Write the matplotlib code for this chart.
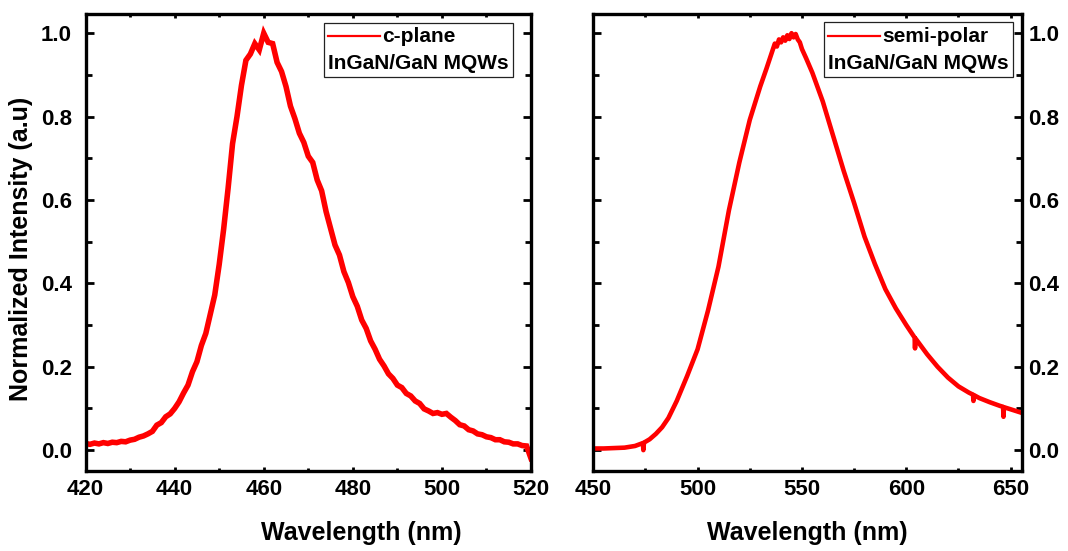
import numpy as np
import matplotlib
matplotlib.use("Agg")
import matplotlib.pyplot as plt
from matplotlib.lines import Line2D
from matplotlib.offsetbox import (AnchoredOffsetbox, DrawingArea, HPacker,
                                  TextArea, VPacker)
from matplotlib.ticker import MultipleLocator

plt.rcParams["font.family"] = ["Liberation Sans", "DejaVu Sans"]
plt.rcParams["font.weight"] = "bold"

# ---- PL spectra -----------------------------------------------------------
# c-plane InGaN/GaN MQWs, 1 nm steps from 420 to 520 nm
cplane_wl = np.arange(420, 521, 1)
cplane_int = [
    0.016, 0.014, 0.017, 0.015, 0.018, 0.016, 0.019, 0.018, 0.021, 0.020,
    0.024, 0.026, 0.031, 0.034, 0.039, 0.045, 0.060, 0.066, 0.080, 0.087,
    0.100, 0.116, 0.137, 0.156, 0.188, 0.212, 0.251, 0.280, 0.326, 0.372,
    0.445, 0.530, 0.628, 0.735, 0.800, 0.875, 0.935, 0.950, 0.975, 0.960,
    1.000, 0.978, 0.975, 0.930, 0.908, 0.872, 0.825, 0.795, 0.760, 0.738,
    0.705, 0.690, 0.648, 0.622, 0.572, 0.532, 0.492, 0.468, 0.428, 0.402,
    0.368, 0.345, 0.312, 0.292, 0.262, 0.242, 0.218, 0.202, 0.183, 0.172,
    0.156, 0.150, 0.136, 0.130, 0.118, 0.112, 0.099, 0.094, 0.088, 0.090,
    0.086, 0.088, 0.079, 0.071, 0.061, 0.058, 0.049, 0.046, 0.039, 0.037,
    0.032, 0.030, 0.025, 0.025, 0.020, 0.019, 0.015, 0.015, 0.011, 0.010,
    -0.020,
]

# semi-polar InGaN/GaN MQWs
semipolar_wl = [
    450, 455, 460, 465, 470, 473.8, 474.0, 474.3, 477, 480, 483, 486, 490,
    495, 500, 505, 510, 515, 520, 525, 530, 533, 535, 537, 538, 539, 540,
    541, 542, 543, 544, 545, 546, 547, 548, 549, 550, 552, 555, 560, 565,
    570, 575, 580, 585, 590, 595, 600, 604.0, 604.2, 604.4, 610, 615, 620,
    625, 630, 632.0, 632.2, 632.4, 635, 640, 645, 646.4, 646.6, 646.8, 650,
    655,
]
semipolar_int = [
    0.004, 0.004, 0.005, 0.006, 0.010, 0.017, 0.000, 0.018, 0.026, 0.039,
    0.055, 0.077, 0.118, 0.178, 0.242, 0.335, 0.440, 0.575, 0.690, 0.792,
    0.872, 0.915, 0.945, 0.975, 0.968, 0.985, 0.978, 0.990, 0.982, 0.995,
    0.986, 1.000, 0.990, 0.998, 0.985, 0.978, 0.962, 0.940, 0.905, 0.836,
    0.753, 0.670, 0.593, 0.512, 0.446, 0.386, 0.340, 0.300, 0.270, 0.244,
    0.268, 0.230, 0.200, 0.174, 0.153, 0.138, 0.133, 0.118, 0.132, 0.125,
    0.115, 0.106, 0.104, 0.080, 0.103, 0.098, 0.090,
]

sample_names = ["c-plane", "semi-polar"]
structure_name = "InGaN/GaN MQWs"
x_label = "Wavelength (nm)"
y_label = "Normalized Intensity (a.u)"

RED = "#ff0000"
TICK_FS = 16
KEY_FS = 15
LABEL_FS = 18


def style_axes(ax, xmaj, xmin):
    for sp in ax.spines.values():
        sp.set_linewidth(2.4)
    ax.xaxis.set_major_locator(MultipleLocator(xmaj))
    ax.xaxis.set_minor_locator(MultipleLocator(xmin))
    ax.yaxis.set_major_locator(MultipleLocator(0.2))
    ax.yaxis.set_minor_locator(MultipleLocator(0.1))
    ax.tick_params(axis="both", which="both", direction="in",
                   top=True, right=True, width=2.0)
    ax.tick_params(axis="x", which="major", length=3, pad=6,
                   labelsize=TICK_FS)
    ax.tick_params(axis="x", which="minor", length=2)
    ax.tick_params(axis="y", which="major", length=6, labelsize=TICK_FS)
    ax.tick_params(axis="y", which="minor", length=4)
    for lab in ax.get_xticklabels() + ax.get_yticklabels():
        lab.set_fontweight("bold")
    ax.set_ylim(-0.05, 1.046)


def add_key(ax, name, anchor):
    da = DrawingArea(37, 10, 0, 0)
    da.add_artist(Line2D([0, 37], [5, 5], color=RED, lw=1.6))
    tprops = dict(fontsize=KEY_FS, fontweight="bold", color="black")
    row1 = HPacker(children=[da, TextArea(name, textprops=tprops)],
                   align="center", pad=0, sep=2)
    row2 = TextArea(structure_name, textprops=tprops)
    box = VPacker(children=[row1, row2], align="left", pad=0, sep=6)
    anchored = AnchoredOffsetbox(loc="upper right", child=box, pad=0.3,
                                 borderpad=0, frameon=True,
                                 bbox_to_anchor=anchor,
                                 bbox_transform=ax.transAxes)
    anchored.patch.set_boxstyle("square", pad=0)
    anchored.patch.set_edgecolor("#222222")
    anchored.patch.set_linewidth(0.9)
    ax.add_artist(anchored)


fig = plt.figure(figsize=(10.68, 5.51), dpi=100)
ax1 = fig.add_axes([0.0801, 0.1452, 0.4171, 0.8294])
ax2 = fig.add_axes([0.5555, 0.1452, 0.4011, 0.8294])

# c-plane panel
ax1.plot(cplane_wl, cplane_int, color=RED, lw=4.0, solid_joinstyle="miter")
style_axes(ax1, 20, 10)
ax1.set_xlim(420, 520)
ax1.tick_params(axis="y", which="major", pad=10)
ax1.set_xlabel(x_label, fontsize=LABEL_FS, fontweight="bold")
ax1.xaxis.set_label_coords(0.618, -0.11)
ax1.set_ylabel(y_label, fontsize=LABEL_FS, fontweight="bold")
ax1.yaxis.set_label_coords(-0.117, 0.485)
add_key(ax1, sample_names[0], (0.9596, 0.9807))

# semi-polar panel
ax2.plot(semipolar_wl, semipolar_int, color=RED, lw=3.3)
style_axes(ax2, 50, 25)
ax2.set_xlim(450, 655.3)
ax2.tick_params(axis="y", which="both", labelleft=False, labelright=True)
ax2.tick_params(axis="y", which="major", pad=5)
ax2.set_xlabel(x_label, fontsize=LABEL_FS, fontweight="bold")
ax2.xaxis.set_label_coords(0.5, -0.11)
add_key(ax2, sample_names[1], (0.9797, 0.9817))

fig.savefig("out.png", dpi=100)
